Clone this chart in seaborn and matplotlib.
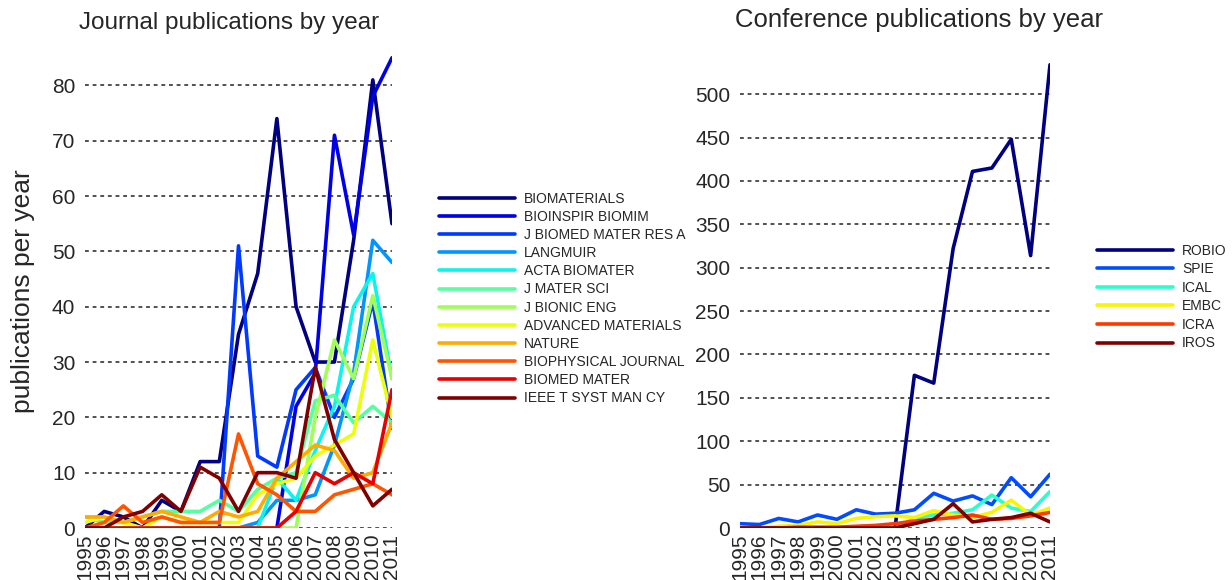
import numpy as np
import pandas as pd
import matplotlib
matplotlib.use("Agg")
import matplotlib.pyplot as plt
import seaborn as sns

years = list(range(1995, 2012))

journals = ["BIOMATERIALS", "BIOINSPIR BIOMIM", "J BIOMED MATER RES A", "LANGMUIR",
            "ACTA BIOMATER", "J MATER SCI", "J BIONIC ENG", "ADVANCED MATERIALS",
            "NATURE", "BIOPHYSICAL JOURNAL", "BIOMED MATER", "IEEE T SYST MAN CY"]

biomaterials = [0, 3, 2, 0, 5, 3, 12, 12, 35, 46, 74, 40, 30, 30, 52, 81, 55]
bioinspir_biomim = [0, 0, 0, 0, 0, 0, 0, 0, 0, 0, 0, 22, 28, 71, 53, 78, 85]
j_biomed_mater_res_a = [0, 0, 0, 0, 0, 0, 0, 0, 51, 13, 11, 25, 29, 20, 27, 41, 18]
langmuir = [0, 0, 0, 0, 0, 0, 0, 0, 0, 1, 5, 5, 6, 15, 28, 52, 48]
acta_biomater = [0, 0, 0, 0, 0, 0, 0, 0, 0, 0, 9, 5, 14, 22, 40, 46, 27]
j_mater_sci = [2, 1, 1, 2, 3, 3, 3, 5, 3, 7, 9, 10, 23, 24, 19, 22, 19]
j_bionic_eng = [0, 0, 0, 0, 0, 0, 0, 0, 0, 0, 0, 0, 20, 34, 27, 42, 27]
advanced_materials = [1, 2, 1, 0, 2, 1, 1, 1, 1, 6, 8, 9, 13, 15, 17, 34, 20]
nature = [2, 2, 1, 2, 3, 2, 1, 3, 2, 3, 9, 12, 15, 14, 9, 10, 19]
biophysical_journal = [0, 1, 4, 1, 2, 1, 1, 1, 17, 8, 6, 3, 3, 6, 7, 8, 6]
biomed_mater = [0, 0, 0, 0, 0, 0, 0, 0, 0, 0, 0, 3, 10, 8, 10, 8, 25]
ieee_t_syst_man_cy = [0, 0, 2, 3, 6, 3, 11, 9, 3, 10, 10, 9, 29, 16, 10, 4, 7]

journal_values = [biomaterials, bioinspir_biomim, j_biomed_mater_res_a, langmuir,
                  acta_biomater, j_mater_sci, j_bionic_eng, advanced_materials,
                  nature, biophysical_journal, biomed_mater, ieee_t_syst_man_cy]

conferences = ["ROBIO", "SPIE", "ICAL", "EMBC", "ICRA", "IROS"]
robio = [0, 0, 0, 0, 0, 0, 0, 0, 0, 176, 167, 322, 411, 415, 448, 314, 534]
spie = [5, 4, 11, 7, 15, 10, 21, 16, 17, 21, 40, 31, 37, 27, 58, 36, 62]
ical = [0, 0, 0, 0, 0, 0, 0, 0, 0, 11, 15, 17, 21, 38, 23, 19, 42]
embc = [0, 0, 2, 3, 7, 5, 11, 13, 14, 12, 20, 15, 12, 18, 32, 15, 23]
icra = [0, 0, 0, 1, 1, 1, 2, 3, 5, 8, 10, 12, 15, 10, 11, 14, 18]
iros = [0, 0, 0, 0, 0, 0, 0, 0, 0, 5, 10, 28, 7, 10, 12, 17, 7]
conference_values = [robio, spie, ical, embc, icra, iros]

year_labels = [str(y) for y in years]

jdf = pd.DataFrame([(y, name, v) for name, vals in zip(journals, journal_values)
                    for y, v in zip(years, vals)], columns=["year", "source", "count"])
cdf = pd.DataFrame([(y, name, v) for name, vals in zip(conferences, conference_values)
                    for y, v in zip(years, vals)], columns=["year", "source", "count"])

sns.set_style("white")
plt.rcParams["font.family"] = ["Liberation Sans", "DejaVu Sans"]

jet = plt.get_cmap("jet")
jpal = [jet(x) for x in np.linspace(0, 1, 12)]
cpal = [jet(x) for x in [0.0, 0.2, 0.4, 0.65, 0.85, 1.0]]

fig = plt.figure(figsize=(12.32, 5.8), dpi=100)
ax1 = fig.add_axes([85 / 1232, 1 - 528 / 580, (392 - 85) / 1232, (528 - 55) / 580])
ax2 = fig.add_axes([740 / 1232, 1 - 528 / 580, (1050 - 740) / 1232, (528 - 63) / 580])

sns.lineplot(data=jdf, x="year", y="count", hue="source", hue_order=journals,
             palette=jpal, linewidth=2.6, ax=ax1)
sns.lineplot(data=cdf, x="year", y="count", hue="source", hue_order=conferences,
             palette=cpal, linewidth=2.6, ax=ax2)

for ax, ymax, yt in [(ax1, 85.5, np.arange(0, 81, 10)), (ax2, 536, np.arange(0, 501, 50))]:
    ax.set_xlim(1995, 2011)
    ax.set_ylim(0, ymax)
    ax.set_xticks(years)
    ax.set_xticklabels(year_labels, rotation=90, fontsize=15)
    ax.set_yticks(yt)
    ax.tick_params(axis="y", labelsize=15, length=0, pad=7)
    ax.tick_params(axis="x", length=0, pad=4)
    for s in ax.spines.values():
        s.set_visible(False)
    ax.yaxis.grid(True, linestyle=(0, (2.5, 2.5)), color="#222222", linewidth=1.1)
    ax.xaxis.grid(False)
    ax.set_axisbelow(True)
    ax.set_xlabel("")
    ax.set_ylabel("")
    ax.patch.set_alpha(0)

ax1.set_ylabel("publications per year", fontsize=19, labelpad=12)
ax1.set_title("Journal publications by year", fontsize=17.5, pad=19, x=0.47)
ax2.set_title("Conference publications by year", fontsize=18.5, pad=26, x=0.577)

leg_kw = dict(loc="upper left", bbox_transform=fig.transFigure, frameon=False,
              fontsize=10, handlelength=5.5, handletextpad=0.65, borderaxespad=0)
h1, l1 = ax1.get_legend_handles_labels()
ax1.legend(h1, l1, bbox_to_anchor=(433 / 1232, 1 - 186 / 580), labelspacing=0.3, **leg_kw)
h2, l2 = ax2.get_legend_handles_labels()
ax2.legend(h2, l2, bbox_to_anchor=(1091 / 1232, 1 - 238 / 580), labelspacing=0.33, **leg_kw)

fig.savefig("out.png", dpi=100)
